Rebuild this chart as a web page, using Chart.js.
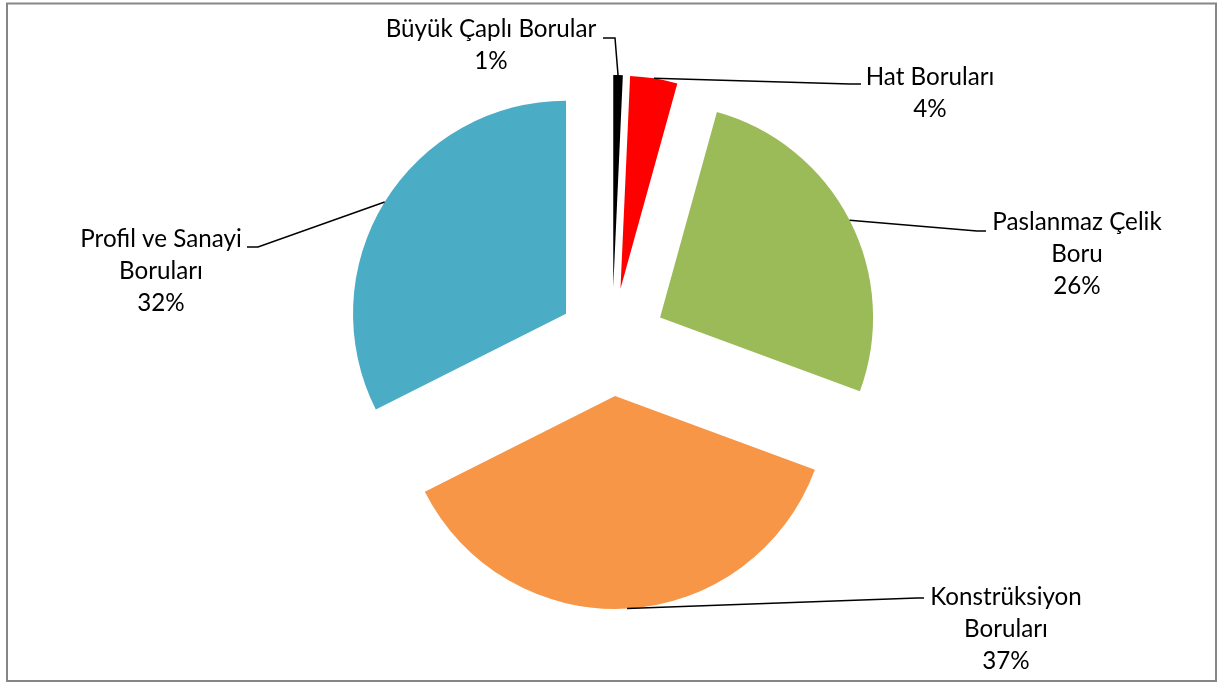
<!DOCTYPE html>
<html><head><meta charset="utf-8">
<script src="https://cdn.jsdelivr.net/npm/chart.js@4"></script>
<style>html,body{margin:0;padding:0;background:#fff;overflow:hidden}canvas{display:block}</style>
</head><body>
<canvas id="c" width="1217" height="686"></canvas>
<script>
// ---- data ----
const categories = ["Büyük Çaplı Borular", "Hat Boruları", "Paslanmaz Çelik Boru", "Konstrüksiyon Boruları", "Profil ve Sanayi Boruları"];
const shares = [0.72, 3.58, 26.33, 36.94, 32.43];
const percentLabels = ["1%", "4%", "26%", "37%", "32%"];
const labelLines = [["Büyük Çaplı Borular"], ["Hat Boruları"], ["Paslanmaz Çelik", "Boru"], ["Konstrüksiyon", "Boruları"], ["Profil ve Sanayi", "Boruları"]];

// ---- style / layout ----
const sliceColors = ["#000000", "#FF0000", "#9BBB59", "#F79646", "#4BACC6"];
const explode = 54;
const labelLayout = [
  {cx: 491, y: 37, path: [[615, 38], [603, 38]]},
  {cx: 930, y: 85, path: [[850, 84], [861, 84]]},
  {cx: 1077, y: 230, path: [[977, 231], [986, 231]]},
  {cx: 1006, y: 605, path: [[917, 598], [924, 598]]},
  {cx: 161, y: 247, path: [[258, 247], [247, 247]]}
];
const fontFamily = "Lato";
const lineHeight = 32;

const ctx0 = document.getElementById('c').getContext('2d');
ctx0.font = "100px " + fontFamily;
const fontSize = Math.round(100 * 211 / ctx0.measureText("Büyük Çaplı Borular").width * 10) / 10;

const explodePlugin = {
  id: 'explode',
  beforeDatasetDraw(chart, args) {
    const ctx = chart.ctx;
    args.meta.data.forEach(arc => {
      const mid = (arc.startAngle + arc.endAngle) / 2;
      ctx.save();
      ctx.translate(Math.cos(mid) * explode, Math.sin(mid) * explode);
      arc.draw(ctx);
      ctx.restore();
    });
    return false;
  }
};

const labelPlugin = {
  id: 'labels',
  afterDatasetsDraw(chart) {
    const ctx = chart.ctx;
    const meta = chart.getDatasetMeta(0);
    meta.data.forEach((arc, i) => {
      const mid = (arc.startAngle + arc.endAngle) / 2;
      const r = arc.outerRadius + explode;
      const sx = arc.x + Math.cos(mid) * r;
      const sy = arc.y + Math.sin(mid) * r;
      const L = labelLayout[i];
      ctx.save();
      ctx.strokeStyle = "#000";
      ctx.lineWidth = 1.5;
      ctx.beginPath();
      ctx.moveTo(sx, sy);
      L.path.forEach(p => ctx.lineTo(p[0], p[1]));
      ctx.stroke();
      ctx.fillStyle = "#000";
      ctx.font = fontSize + "px " + fontFamily;
      ctx.textAlign = "center";
      ctx.textBaseline = "alphabetic";
      const lines = labelLines[i].concat([percentLabels[i]]);
      lines.forEach((t, k) => ctx.fillText(t, L.cx, L.y + k * lineHeight));
      ctx.restore();
    });
  }
};

const borderPlugin = {
  id: 'frame',
  beforeDraw(chart) {
    const ctx = chart.ctx;
    ctx.save();
    ctx.fillStyle = "#fff";
    ctx.fillRect(0, 0, chart.width, chart.height);
    ctx.restore();
  },
  afterDraw(chart) {
    const ctx = chart.ctx;
    ctx.save();
    ctx.strokeStyle = "#868686";
    ctx.lineWidth = 2;
    ctx.strokeRect(7, 3.5, 1209, 677.5);
    ctx.restore();
  }
};

new Chart(document.getElementById('c'), {
  type: 'pie',
  data: {
    labels: categories,
    datasets: [{data: shares, backgroundColor: sliceColors, borderWidth: 0}]
  },
  options: {
    responsive: false,
    animation: false,
    events: [],
    radius: 213,
    layout: {padding: {left: 10, right: 3, top: 10, bottom: 12}},
    plugins: {legend: {display: false}, tooltip: {enabled: false}}
  },
  plugins: [borderPlugin, explodePlugin, labelPlugin]
});
</script>
</body></html>
